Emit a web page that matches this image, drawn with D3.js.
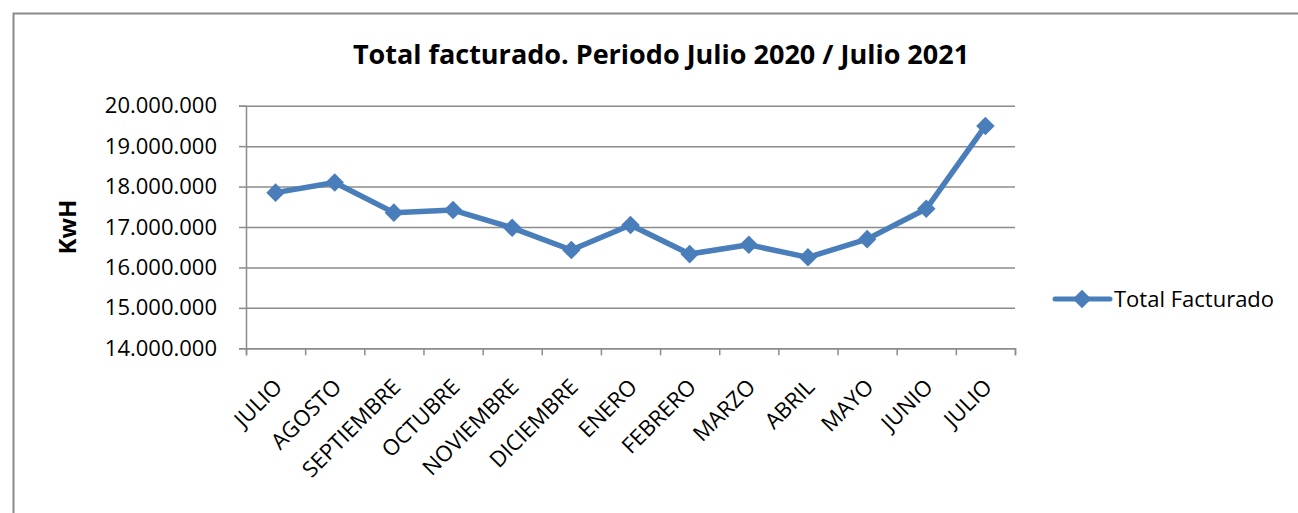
<!DOCTYPE html>
<html>
<head>
<meta charset="utf-8">
<script src="https://cdn.jsdelivr.net/npm/d3@7"></script>
<style>
  body { margin: 0; background: #fff; }
  text { font-family: "Open Sans", sans-serif; fill: #000; }
</style>
</head>
<body>
<div id="chart"></div>
<script>
// Chart data
var months = ['JULIO', 'AGOSTO', 'SEPTIEMBRE', 'OCTUBRE', 'NOVIEMBRE', 'DICIEMBRE',
              'ENERO', 'FEBRERO', 'MARZO', 'ABRIL', 'MAYO', 'JUNIO', 'JULIO'];
var totalFacturado = [17850000, 18100000, 17355000, 17420000, 16980000, 16430000,
                      17050000, 16330000, 16560000, 16250000, 16700000, 17450000, 19500000];
var yTicks = [14000000, 15000000, 16000000, 17000000, 18000000, 19000000, 20000000];

var svgWidth = 1298;
var svgHeight = 513;

// plot area
var plotLeft = 246, plotRight = 1015, plotTop = 105.7, plotBottom = 348.3;
var lineColor = '#4a7ebb';
var gridColor = '#8c8c8c';

var svg = d3.select('#chart')
    .append('svg')
    .attr('width', svgWidth)
    .attr('height', svgHeight);

// outer frame
svg.append('rect')
    .attr('x', 13.5)
    .attr('y', 13.5)
    .attr('width', 1300)
    .attr('height', 510)
    .attr('fill', 'none')
    .attr('stroke', '#8a8a8a')
    .attr('stroke-width', 2);

var idx = months.map((m, i) => i);

var x = d3.scaleBand()
    .domain(idx)
    .range([plotLeft, plotRight]);

var xEdge = d3.scaleLinear()
    .domain([0, months.length])
    .range([plotLeft, plotRight]);

var y = d3.scaleLinear()
    .domain([14000000, 20000000])
    .range([plotBottom, plotTop]);

var locale = d3.formatLocale({decimal: ',', thousands: '.', grouping: [3], currency: ['', '']});
var fmt = locale.format(',d');

// gridlines
svg.append('g')
    .attr('transform', `translate(${plotLeft},0)`)
    .call(d3.axisLeft(y).tickValues(yTicks).tickSize(-(plotRight - plotLeft)).tickFormat(''))
    .call(g => g.select('.domain').remove())
    .call(g => g.selectAll('line').attr('stroke', gridColor).attr('stroke-width', 1.5));

// y axis
var yAxis = svg.append('g')
    .attr('transform', `translate(${plotLeft},0)`)
    .call(d3.axisLeft(y).tickValues(yTicks).tickSize(7).tickPadding(22).tickFormat(fmt));
yAxis.select('.domain').attr('stroke', gridColor).attr('stroke-width', 1.5);
yAxis.selectAll('line').attr('stroke', gridColor).attr('stroke-width', 1.5);
yAxis.selectAll('text')
    .style('font-size', '22px')
    .style('font-family', '"Open Sans", sans-serif')
    .attr('fill', '#000');

// x axis ticks at category edges
var xAxis = svg.append('g')
    .attr('transform', `translate(0,${plotBottom})`)
    .call(d3.axisBottom(xEdge).ticks(months.length).tickSize(7).tickFormat(''));
xAxis.select('.domain').attr('stroke', gridColor).attr('stroke-width', 1.5);
xAxis.selectAll('line').attr('stroke', gridColor).attr('stroke-width', 1.5);

// x labels
var xLabels = svg.append('g')
    .attr('transform', `translate(0,${plotBottom})`)
    .call(d3.axisBottom(x).tickSize(0).tickFormat(i => months[i]));
xLabels.select('.domain').remove();
xLabels.selectAll('text')
    .style('font-size', '22px')
    .style('font-family', '"Open Sans", sans-serif')
    .attr('fill', '#000')
    .attr('text-anchor', 'end')
    .attr('dy', 0)
    .attr('y', 0)
    .attr('transform', 'translate(8,40) rotate(-45)');

// line
var line = d3.line()
    .x((d, i) => x(i) + x.bandwidth() / 2)
    .y(d => y(d));

svg.append('path')
    .datum(totalFacturado)
    .attr('fill', 'none')
    .attr('stroke', lineColor)
    .attr('stroke-width', 5.5)
    .attr('stroke-linejoin', 'round')
    .attr('d', line);

var diamond = d3.symbol().type(d3.symbolDiamond2).size(220);

svg.selectAll('.marker')
    .data(totalFacturado)
    .enter()
    .append('path')
    .attr('class', 'marker')
    .attr('d', diamond)
    .attr('fill', lineColor)
    .attr('transform', (d, i) => `translate(${x(i) + x.bandwidth() / 2},${y(d)})`);

// title
svg.append('text')
    .attr('x', 661)
    .attr('y', 64)
    .attr('text-anchor', 'middle')
    .style('font-size', '27px')
    .style('font-weight', 'bold')
    .text('Total facturado. Periodo Julio 2020 / Julio 2021');

// y axis title
svg.append('text')
    .attr('transform', 'translate(76,227) rotate(-90)')
    .attr('text-anchor', 'middle')
    .style('font-size', '24px')
    .style('font-weight', 'bold')
    .text('KwH');

// legend
var legend = svg.append('g').attr('transform', 'translate(1055,299)');
legend.append('line')
    .attr('x1', 0).attr('x2', 55)
    .attr('stroke', lineColor)
    .attr('stroke-width', 5)
    .attr('stroke-linecap', 'round');
legend.append('path')
    .attr('d', diamond)
    .attr('fill', lineColor)
    .attr('transform', 'translate(27,0)');
legend.append('text')
    .attr('x', 59)
    .attr('y', 8)
    .style('font-size', '22px')
    .text('Total Facturado');
</script>
</body>
</html>
